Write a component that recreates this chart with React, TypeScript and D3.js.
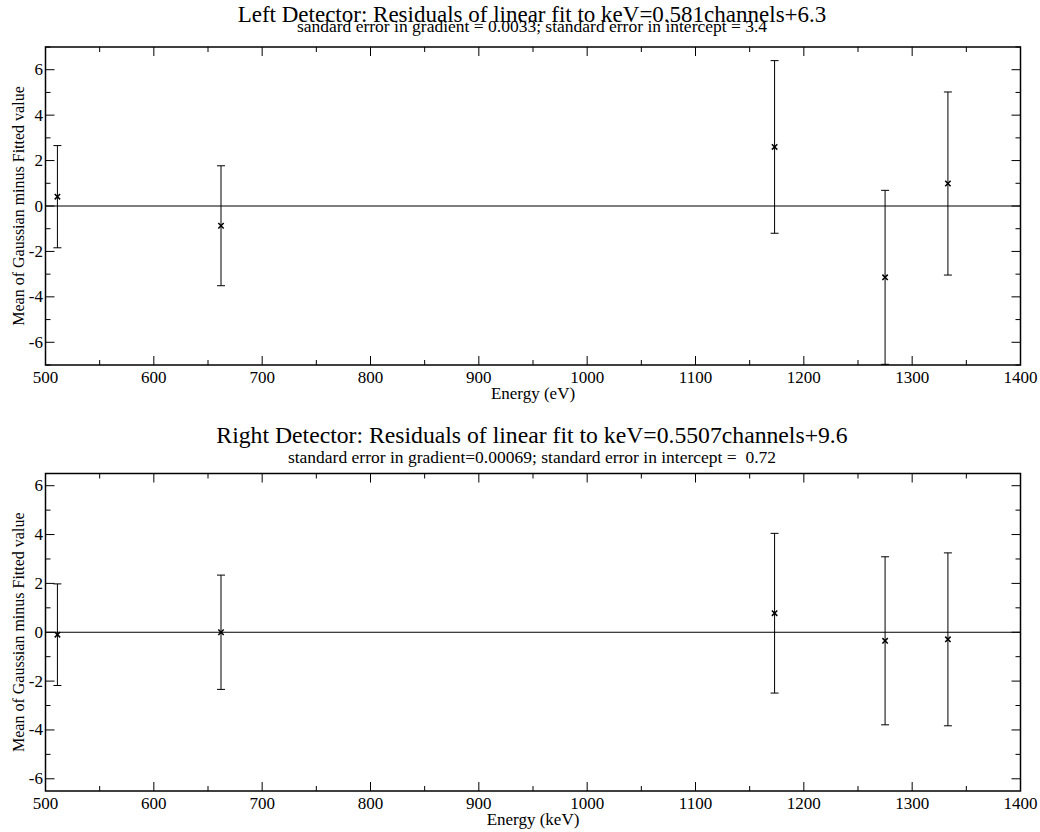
import React from "react";
import * as d3 from "d3";

const energies = [511, 662, 1173, 1275, 1333];
const leftResiduals = [0.41, -0.87, 2.6, -3.14, 0.99];
const leftErrors = [2.25, 2.64, 3.8, 3.83, 4.03];
const rightResiduals = [-0.1, 0.0, 0.78, -0.35, -0.29];
const rightErrors = [2.08, 2.34, 3.27, 3.44, 3.54];
const xTicks = [500, 600, 700, 800, 900, 1000, 1100, 1200, 1300, 1400];

const FONT = "Liberation Serif, Times New Roman, serif";

type PanelProps = {
  top: number;
  bottom: number;
  yMax: number;
  title: string;
  subtitle: string;
  titleY: number;
  subY: number;
  titleSize: number;
  xLabel: string;
  values: number[];
  errors: number[];
};

function Panel(p: PanelProps) {
  const left = 45.5;
  const right = 1020.5;
  const x = d3.scaleLinear().domain([500, 1400]).range([left, right]);
  const y = d3.scaleLinear().domain([-p.yMax, p.yMax]).range([p.bottom, p.top]);
  const majorY = d3.range(-6, 6.01, 2);
  const minorY = d3.range(-7, 7.01, 1).filter((v) => Math.abs(v) <= p.yMax && Math.abs(v % 2) === 1);
  const minorX = d3.range(550, 1400, 100);
  const cx = (left + right) / 2;
  const clipId = "clip" + Math.round(p.top);
  const maj = 9;
  const min = 5;
  return (
    <g>
      <defs>
        <clipPath id={clipId}>
          <rect x={left} y={p.top} width={right - left} height={p.bottom - p.top} />
        </clipPath>
      </defs>
      <text x={cx - 1} y={p.titleY} textAnchor="middle" fontSize={p.titleSize}>{p.title}</text>
      <text x={cx - 1} y={p.subY} textAnchor="middle" fontSize={17.5} style={{ whiteSpace: "pre" }}>{p.subtitle}</text>
      <g stroke="#000" strokeWidth={1}>
        {xTicks.map((t) => (
          <g key={"xt" + t}>
            <line x1={x(t)} x2={x(t)} y1={p.bottom} y2={p.bottom - maj} />
            <line x1={x(t)} x2={x(t)} y1={p.top} y2={p.top + maj} />
          </g>
        ))}
        {minorX.map((t) => (
          <g key={"xm" + t}>
            <line x1={x(t)} x2={x(t)} y1={p.bottom} y2={p.bottom - min} />
            <line x1={x(t)} x2={x(t)} y1={p.top} y2={p.top + min} />
          </g>
        ))}
        {majorY.map((t) => (
          <g key={"yt" + t}>
            <line x1={left} x2={left + maj} y1={y(t)} y2={y(t)} />
            <line x1={right} x2={right - maj} y1={y(t)} y2={y(t)} />
          </g>
        ))}
        {minorY.map((t) => (
          <g key={"ym" + t}>
            <line x1={left} x2={left + min} y1={y(t)} y2={y(t)} />
            <line x1={right} x2={right - min} y1={y(t)} y2={y(t)} />
          </g>
        ))}
        <line x1={left} x2={right} y1={y(0)} y2={y(0)} />
        <g clipPath={`url(#${clipId})`}>
          {energies.map((e, i) => {
            const px = x(e);
            const hi = y(p.values[i] + p.errors[i]);
            const lo = y(p.values[i] - p.errors[i]);
            const py = y(p.values[i]);
            return (
              <g key={"pt" + i}>
                <line x1={px} x2={px} y1={hi} y2={lo} />
                <line x1={px - 4} x2={px + 4} y1={hi} y2={hi} />
                <line x1={px - 4} x2={px + 4} y1={lo} y2={lo} />
                <line x1={px - 2.7} x2={px + 2.7} y1={py - 2.7} y2={py + 2.7} strokeWidth={1.5} />
                <line x1={px - 2.7} x2={px + 2.7} y1={py + 2.7} y2={py - 2.7} strokeWidth={1.5} />
              </g>
            );
          })}
        </g>
        <rect x={left} y={p.top} width={right - left} height={p.bottom - p.top} fill="none" strokeWidth={1.5} />
      </g>
      {xTicks.map((t) => (
        <text key={"xl" + t} x={x(t)} y={p.bottom + 17.5} textAnchor="middle" fontSize={17}>{String(t)}</text>
      ))}
      {majorY.map((t) => (
        <text key={"yl" + t} x={left - 2.5} y={y(t) + 5.5} textAnchor="end" fontSize={17}>{String(t)}</text>
      ))}
      <text x={cx} y={p.bottom + 33.5} textAnchor="middle" fontSize={17}>{p.xLabel}</text>
      <text transform={`translate(24, ${(p.top + p.bottom) / 2}) rotate(-90)`} textAnchor="middle" fontSize={16}>
        Mean of Gaussian minus Fitted value
      </text>
    </g>
  );
}

export default function App() {
  return (
    <svg width={1040} height={832} fontFamily={FONT} style={{ display: "block", position: "absolute", left: 0, top: 0, background: "#fff", fontFamily: FONT }}>
      <rect x={0} y={0} width={1040} height={832} fill="#fff" />
      <Panel
        top={47}
        bottom={365}
        yMax={7}
        title="Left Detector: Residuals of linear fit to keV=0.581channels+6.3"
        subtitle="sandard error in gradient = 0.0033; standard error in intercept = 3.4"
        titleY={21.5}
        subY={32}
        titleSize={23}
        xLabel="Energy (eV)"
        values={leftResiduals}
        errors={leftErrors}
      />
      <Panel
        top={473.5}
        bottom={791}
        yMax={6.5}
        title="Right Detector: Residuals of linear fit to keV=0.5507channels+9.6"
        subtitle="standard error in gradient=0.00069; standard error in intercept =  0.72"
        titleY={443.3}
        subY={462.5}
        titleSize={23.7}
        xLabel="Energy (keV)"
        values={rightResiduals}
        errors={rightErrors}
      />
    </svg>
  );
}
